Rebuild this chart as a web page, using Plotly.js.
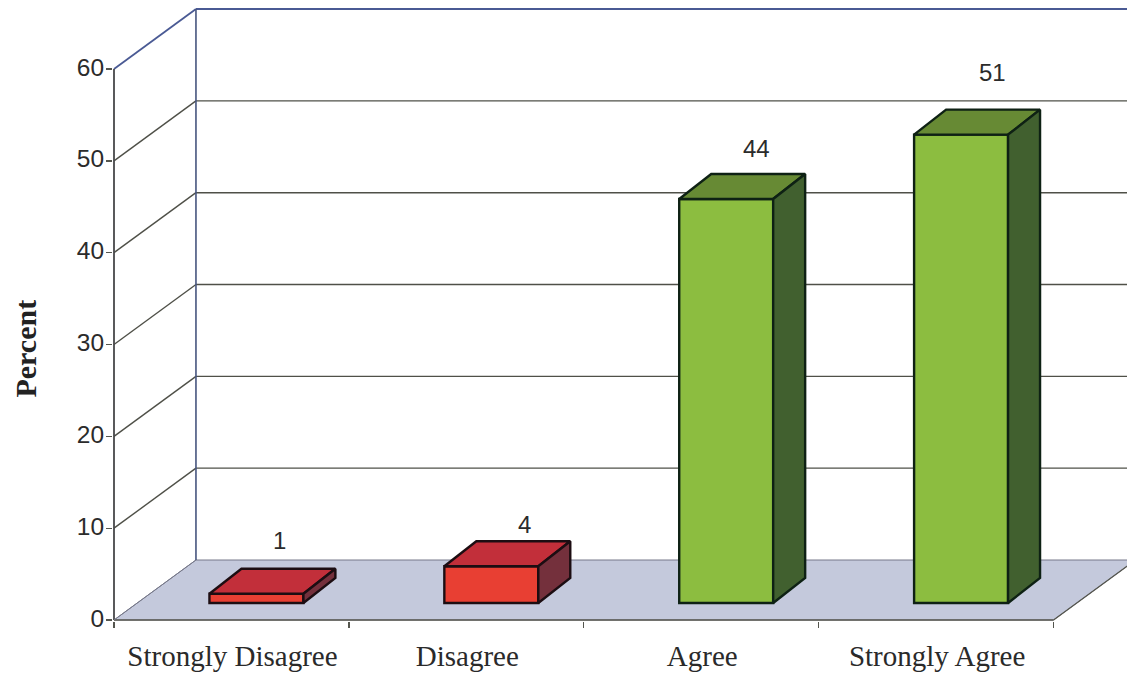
<!DOCTYPE html>
<html>
<head>
<meta charset="utf-8">
<script src="https://cdn.plot.ly/plotly-3.0.1.min.js"></script>
<style>html,body{margin:0;padding:0;background:#fff;overflow:hidden}</style>
</head>
<body>
<div id="chart" style="width:1127px;height:673px"></div>
<script>
// Survey responses
const categories = ["Strongly Disagree", "Disagree", "Agree", "Strongly Agree"];
const percents = [1, 4, 44, 51];
const yTicks = [0, 10, 20, 30, 40, 50, 60];
const boundaries = [-0.5, 0.5, 1.5, 2.5, 3.5];

// Palette per response group: front, top and side faces, then outline
const redFaces = {front: "#e83f33", top: "#c22f3a", side: "#74303c", edge: "#1c0d12"};
const greenFaces = {front: "#8cbd40", top: "#678a34", side: "#41602f", edge: "#0e2114"};
const facesFor = [redFaces, redFaces, greenFaces, greenFaces];

// Oblique projection of the box: depth expressed in axis units
const PX_X = 235, PX_Y = 9.183;          // pixels per category, pixels per percent
const FLOOR_DX = 82 / PX_X, FLOOR_DY = 60 / PX_Y;
const BAR_DX = 32 / PX_X, BAR_DY = 25 / PX_Y;
const LIFT_X = 25 / PX_X, LIFT_Y = 17 / PX_Y;   // bars stand partway into the floor
const BAR_W = 94 / PX_X;

const xMin = -0.5 - 1 / PX_X, xMax = -0.5 + 1013.5 / PX_X;
const yMin = -1 / PX_Y, yMax = 612 / PX_Y;
const Y_TOP = 60;

const lineShape = (x0, y0, x1, y1, color, width) => ({
  type: "line", layer: "below", xref: "x", yref: "y",
  x0, y0, x1, y1, line: {color, width}
});

const xL = -0.5;
const xR = 3.5;
const shapes = [
  // floor
  {type: "path", layer: "below", xref: "x", yref: "y",
   path: `M${xL},0 L${xL + FLOOR_DX},${FLOOR_DY} L${xR + FLOOR_DX},${FLOOR_DY} L${xR},0 Z`,
   fillcolor: "#c4c9dc", line: {color: "#77798a", width: 1}}
];
// wall grid lines, running back along the side wall and across the back wall
yTicks.forEach(v => {
  const isTop = v === Y_TOP;
  const c = isTop ? "#4a5a94" : "#4f5048";
  const w = isTop ? 1.8 : 1.4;
  if (v > 0) {
    shapes.push(lineShape(xL, v, xL + FLOOR_DX, v + FLOOR_DY, c, w));
    shapes.push(lineShape(xL + FLOOR_DX, v + FLOOR_DY, xMax, v + FLOOR_DY, c, w));
  }
});
shapes.push(lineShape(xL + FLOOR_DX, FLOOR_DY, xL + FLOOR_DX, Y_TOP + FLOOR_DY, "#46557e", 1.6));
shapes.push(lineShape(xL, 0, xL, Y_TOP, "#47484a", 1.8));
shapes.push(lineShape(xL, 0, xR, 0, "#5a5a52", 1.6));
shapes.push(lineShape(xL, 0, xL + FLOOR_DX, FLOOR_DY, "#77798a", 1));
shapes.push(lineShape(xR, 0, xR + FLOOR_DX, FLOOR_DY, "#55564e", 1.2));

// front faces as real bars lifted off the axis
const frontTrace = {
  type: "bar",
  x: percents.map((_, i) => i + LIFT_X),
  y: percents,
  base: percents.map(() => LIFT_Y),
  width: BAR_W,
  marker: {
    color: facesFor.map(f => f.front),
    line: {color: facesFor.map(f => f.edge), width: 2.4}
  },
  hoverinfo: "skip"
};

// top and side parallelograms
const polyTrace = (xs, ys, fill, edge) => ({
  type: "scatter", mode: "lines", x: xs, y: ys, fill: "toself",
  fillcolor: fill, line: {color: edge, width: 2.4, shape: "linear"}, hoverinfo: "skip"
});
const faceTraces = [];
percents.forEach((v, i) => {
  const f = facesFor[i];
  const l = i + LIFT_X - BAR_W / 2, r = i + LIFT_X + BAR_W / 2;
  const b = LIFT_Y, t = LIFT_Y + v;
  faceTraces.push(polyTrace(
    [l, l + BAR_DX, r + BAR_DX, r, l],
    [t, t + BAR_DY, t + BAR_DY, t, t], f.top, f.edge));
  faceTraces.push(polyTrace(
    [r, r + BAR_DX, r + BAR_DX, r, r],
    [b, b + BAR_DY, t + BAR_DY, t, b], f.side, f.edge));
});

// value labels float above each box
const labelNudge = [[7.5, 28.5], [17, 16.5], [14.5, 25], [15, 37]];
const valueNotes = percents.map((v, i) => ({
  xref: "x", yref: "y",
  x: i + LIFT_X + BAR_DX / 2,
  y: LIFT_Y + v + BAR_DY,
  text: String(v), showarrow: false,
  xshift: labelNudge[i][0], yshift: labelNudge[i][1],
  font: {family: "Liberation Sans, Arial, sans-serif", size: 24, color: "#2b2b2b"}
}));

const axisTitleNote = {
  xref: "paper", yref: "y", x: 0, y: 29.5, xshift: -87.5, xanchor: "center", yanchor: "middle",
  text: "<b>Percent</b>", textangle: -90, showarrow: false,
  font: {family: "Liberation Serif, Times New Roman, serif", size: 30, color: "#222222"}
};

const layout = {
  width: 1127, height: 673,
  margin: {l: 112.5, r: 0, t: 8, b: 52, pad: 0},
  paper_bgcolor: "#ffffff", plot_bgcolor: "#ffffff",
  showlegend: false, hovermode: false,
  xaxis: {
    type: "linear", range: [xMin, xMax], showgrid: false, zeroline: false, showline: false,
    tickmode: "array", tickvals: categories.map((_, i) => i), ticktext: categories,
    ticks: "", ticklabelstandoff: 15, ticklabelshift: 1,
    tickfont: {family: "Liberation Serif, Times New Roman, serif", size: 29, color: "#2a2a2a"},
    minor: {tickmode: "array", tickvals: boundaries, ticks: "outside", ticklen: 6, tickwidth: 1.3,
            tickcolor: "#55564e", showgrid: false}
  },
  yaxis: {
    range: [yMin, yMax], showgrid: false, zeroline: false, showline: false,
    tickmode: "array", tickvals: yTicks, ticks: "outside", ticklen: 6, tickwidth: 1.3,
    tickcolor: "#55564e", ticklabelstandoff: -3, ticklabelshift: -2,
    tickfont: {family: "Liberation Sans, Arial, sans-serif", size: 24.5, color: "#2b2b2b"}
  },
  shapes,
  annotations: [...valueNotes, axisTitleNote]
};

Plotly.newPlot("chart", [frontTrace, ...faceTraces], layout, {displayModeBar: false, staticPlot: true});
</script>
</body>
</html>
